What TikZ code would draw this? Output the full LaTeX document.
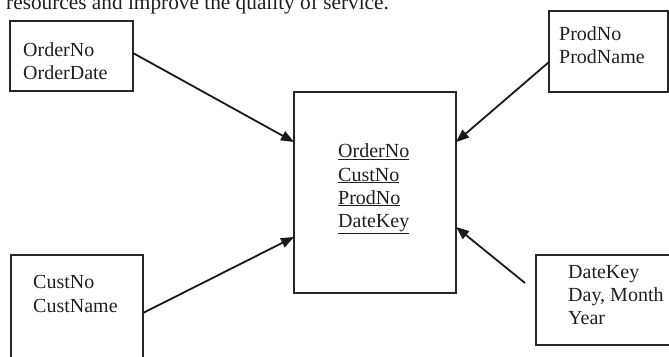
\documentclass[tikz,border=0pt]{standalone}
\usepackage{fontspec}
\setmainfont{Liberation Serif}
\usetikzlibrary{arrows.meta,calc}
\begin{document}
\begin{tikzpicture}[x=1pt,y=-1pt,
  box/.style={draw=black!85,line width=1.5pt,inner sep=0pt,outer sep=0pt,anchor=north west},
  txt/.style={inner sep=0pt,anchor=base west,font=\fontsize{20}{24}\selectfont,text=black!88},
  link/.style={draw=black!90,line width=1.8pt,-{Triangle[length=13pt,width=10pt]}}]
\useasboundingbox (0,0) rectangle (669,356);
\clip (0,0) rectangle (669,356);
% partially visible caption line at the top
\node[txt,font=\fontsize{21.3}{25}\selectfont] (cap) at (6,9.5) {resources and improve the quality of service.};
% boxes
\node[box,minimum width=123pt,minimum height=70pt] (tl) at (10,21) {};
\node[box,minimum width=119pt,minimum height=81pt] (tr) at (549,11) {};
\node[box,minimum width=162pt,minimum height=201pt] (c) at (294,92) {};
\node[box,minimum width=132pt,minimum height=110pt] (bl) at (11,255) {};
\node[box,minimum width=140pt,minimum height=90pt] (br) at (536,255) {};
% texts
\node[txt] (t1) at (23,56) {OrderNo};
\node[txt] (t2) at (23,79.5) {OrderDate};
\node[txt] (t3) at (559,40) {ProdNo};
\node[txt] (t4) at (559,63) {ProdName};
\node[txt] (t5) at (338,157.5) {\underline{OrderNo}};
\node[txt] (t6) at (338,181) {\underline{CustNo}};
\node[txt] (t7) at (338,204) {\underline{ProdNo}};
\node[txt] (t8) at (338,227.5) {\underline{DateKey}};
\node[txt] (t9) at (33,288) {CustNo};
\node[txt] (t10) at (33,312) {CustName};
\node[txt] (t11) at (568,278) {DateKey};
\node[txt] (t12) at (568,301) {Day, Month};
\node[txt] (t13) at (568,324) {Year};
% connector end points
\coordinate (s1) at ($(tl.north east)+(0,32)$);
\coordinate (e1) at ($(c.north west)+(0,50)$);
\coordinate (s2) at ($(tr.north west)+(0,51)$);
\coordinate (e2) at ($(c.north east)+(0,50)$);
\coordinate (s3) at ($(bl.north east)+(0,58)$);
\coordinate (e3) at ($(c.north west)+(0,145)$);
\coordinate (s4) at ($(br.north west)+(-11,28)$);
\coordinate (e4) at ($(c.north east)+(0,135)$);
\draw[link] (s1) -- (e1);
\draw[link] (s2) -- (e2);
\draw[link] (s3) -- (e3);
\draw[link] (s4) -- (e4);
\end{tikzpicture}
\end{document}
